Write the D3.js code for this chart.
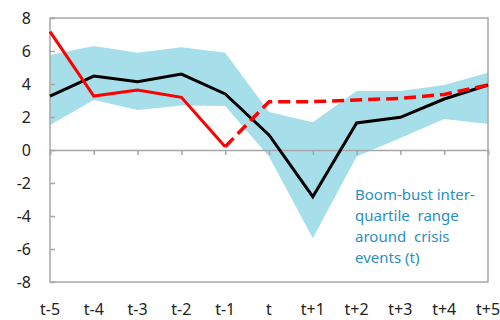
<!DOCTYPE html>
<html>
<head>
<meta charset="utf-8">
<script src="https://cdn.jsdelivr.net/npm/d3@7"></script>
<style>
  html, body { margin: 0; padding: 0; background: #fff; }
  svg { display: block; font-family: "Noto Sans", "Open Sans", sans-serif; }
</style>
</head>
<body>
<svg id="chart" width="500" height="320"></svg>
<script>
// Periods around crisis events
const periods = ["t-5", "t-4", "t-3", "t-2", "t-1", "t", "t+1", "t+2", "t+3", "t+4", "t+5"];

// Inter-quartile range of boom-bust episodes
const bandUpper = [5.76, 6.3, 5.9, 6.22, 5.9, 2.3, 1.68, 3.58, 3.58, 3.94, 4.68];
const bandLower = [1.52, 3.03, 2.42, 2.7, 2.67, -0.4, -5.35, -0.4, 0.72, 1.88, 1.58];

// Median boom-bust path
const median = [3.27, 4.48, 4.14, 4.6, 3.4, 0.91, -2.83, 1.64, 1.98, 3.09, 3.94];

// Current path (observed) and projection
const actual = [7.17, 3.27, 3.64, 3.19, 0.2, null, null, null, null, null, null];
const projection = [null, null, null, null, 0.2, 2.93, 2.93, 3.03, 3.13, 3.37, 3.94];

const yTicks = [-8, -6, -4, -2, 0, 2, 4, 6, 8];
const noteLines = ["Boom-bust inter-", "quartile  range", "around  crisis", "events (t)"];

const svg = d3.select("#chart");
const plotLeft = 50, plotRight = 488, plotTop = 18, plotBottom = 282;

const x = d3.scalePoint().domain(periods).range([plotLeft, plotRight]).padding(0);
const y = d3.scaleLinear().domain([-8, 8]).range([plotBottom, plotTop]);

const axisGrey = "#a6a6a6";

// Shaded inter-quartile band
const area = d3.area()
  .x((d, i) => x(periods[i]))
  .y0((d, i) => y(bandLower[i]))
  .y1((d, i) => y(bandUpper[i]));
svg.append("path")
  .datum(bandUpper)
  .attr("d", area)
  .attr("fill", "#a6dfea");

// Plot frame
svg.append("rect")
  .attr("x", plotLeft).attr("y", plotTop)
  .attr("width", plotRight - plotLeft).attr("height", plotBottom - plotTop)
  .attr("fill", "none").attr("stroke", axisGrey).attr("stroke-width", 1.5);

// Y axis with inward ticks
const yAxis = d3.axisRight(y).tickValues(yTicks).tickSize(5).tickFormat("");
const yg = svg.append("g").attr("transform", `translate(${plotLeft},0)`).call(yAxis);
yg.select(".domain").remove();
yg.selectAll("line").attr("stroke", axisGrey).attr("stroke-width", 1.5);

svg.append("g").selectAll("text")
  .data(yTicks)
  .join("text")
  .attr("x", 31)
  .attr("y", d => y(d))
  .attr("dy", "0.36em")
  .attr("text-anchor", "end")
  .attr("font-size", 16)
  .attr("fill", "#222")
  .text(d => d);

// X axis along zero
const xAxis = d3.axisBottom(x).tickSize(5).tickFormat("");
const xg = svg.append("g").attr("transform", `translate(0,${y(0)})`).call(xAxis);
xg.select(".domain").attr("stroke", axisGrey).attr("stroke-width", 1.5);
xg.selectAll("line").attr("stroke", axisGrey).attr("stroke-width", 1.5);

svg.append("g").selectAll("text")
  .data(periods)
  .join("text")
  .attr("x", d => x(d))
  .attr("y", 315)
  .attr("text-anchor", "middle")
  .attr("font-size", 16)
  .attr("fill", "#222")
  .text(d => d);

// Median line
const line = d3.line()
  .defined(d => d != null)
  .x((d, i) => x(periods[i]))
  .y(d => y(d));

svg.append("path")
  .datum(median)
  .attr("d", line)
  .attr("fill", "none")
  .attr("stroke", "#000")
  .attr("stroke-width", 3)
  .attr("stroke-linejoin", "miter");

// Observed path
svg.append("path")
  .datum(actual)
  .attr("d", line)
  .attr("fill", "none")
  .attr("stroke", "#ff0000")
  .attr("stroke-width", 3);

// Projected path
svg.append("path")
  .datum(projection)
  .attr("d", line)
  .attr("fill", "none")
  .attr("stroke", "#ff0000")
  .attr("stroke-width", 3.5)
  .attr("stroke-dasharray", "12,6");

// Annotation
const note = svg.append("text")
  .attr("x", 355)
  .attr("y", 200)
  .attr("font-size", 15)
  .attr("fill", "#2a90c0");
note.selectAll("tspan")
  .data(noteLines)
  .join("tspan")
  .attr("x", 355)
  .attr("dy", (d, i) => i === 0 ? 0 : 21)
  .attr("xml:space", "preserve")
  .style("white-space", "pre")
  .text(d => d);
</script>
</body>
</html>
